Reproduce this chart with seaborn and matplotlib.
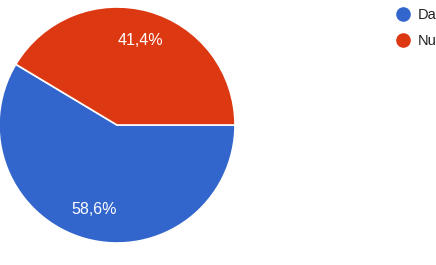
import matplotlib
matplotlib.use("Agg")
import matplotlib.pyplot as plt
import seaborn as sns
from matplotlib.lines import Line2D

labels = ["Da", "Nu"]
values = [58.6, 41.4]
colors = ["#3366CC", "#DC3912"]

sns.set_theme(style="white")
plt.rcParams['font.family'] = ['Liberation Sans', 'DejaVu Sans']
palette = sns.color_palette(colors)

W, H = 436, 265
fig = plt.figure(figsize=(W / 100, H / 100), dpi=100)
fig.patch.set_facecolor("white")

cx, cy, r = 117, 125, 118
ax = fig.add_axes([(cx - r) / W, (H - cy - r) / H, 2 * r / W, 2 * r / H])

def fmt(p):
    return f"{p:.1f}%".replace(".", ",")

wedges, texts, autotexts = ax.pie(
    values, colors=palette, startangle=0, counterclock=False,
    autopct=fmt, pctdistance=0.74, radius=1,
    wedgeprops=dict(edgecolor="white", linewidth=1.2),
    textprops=dict(color="white", fontsize=11.5),
)
ax.set_xlim(-1, 1)
ax.set_ylim(-1, 1)
ax.set_aspect("equal")
ax.axis("off")

handles = [Line2D([0], [0], marker="o", linestyle="none", markersize=9.5,
                  markerfacecolor=c, markeredgecolor=c) for c in palette]
leg = fig.legend(handles, labels, loc="upper left",
                 bbox_to_anchor=(398 / W, 1 - 8 / H), frameon=False,
                 fontsize=10.5, handlelength=0.75, handletextpad=0.6,
                 labelspacing=0.85, borderpad=0, borderaxespad=0)
for t in leg.get_texts():
    t.set_color("#222222")

fig.savefig("out.png", dpi=100)
